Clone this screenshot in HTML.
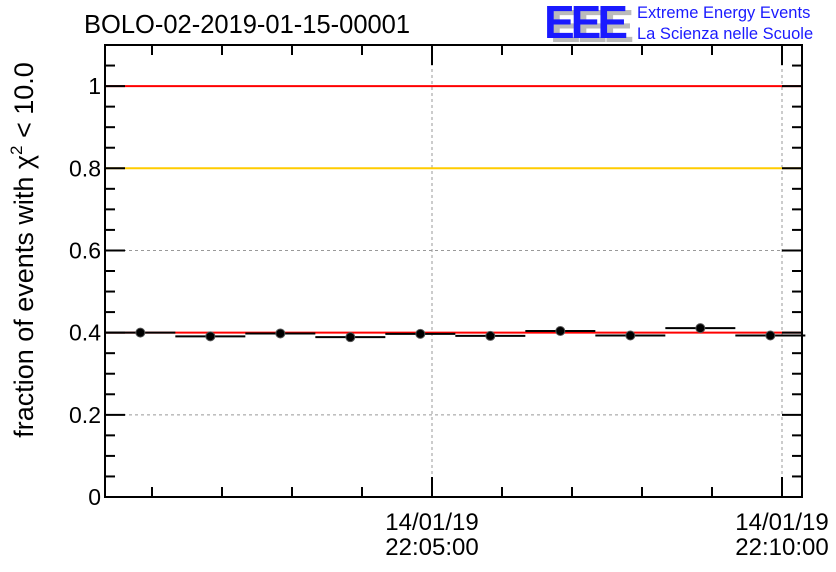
<!DOCTYPE html>
<html><head><meta charset="utf-8"><style>
body{margin:0;background:#fff;}
svg{display:block;font-family:"Liberation Sans",sans-serif;}
</style></head><body>
<svg id="chart" width="836" height="572" viewBox="0 0 836 572">
<text x="84" y="33" font-size="25.5" fill="#000">BOLO-02-2019-01-15-00001</text>
<g>
<text x="550" y="42" font-size="46" font-weight="bold" fill="#bbb" letter-spacing="-4">EEE</text>
<text x="544" y="38" font-size="46" font-weight="bold" fill="#1a1aff" letter-spacing="-4">EEE</text>
<text x="637" y="18" font-size="16.5" fill="#1a1aff">Extreme Energy Events</text>
<text x="637" y="39" font-size="16.5" fill="#1a1aff">La Scienza nelle Scuole</text>
</g>
<text transform="translate(33,250) rotate(-90)" text-anchor="middle" font-size="27" fill="#000">fraction of events with χ<tspan dy="-11" font-size="17">2</tspan><tspan dy="11"> &lt; 10.0</tspan></text>
<g id="grid"></g><g id="marks"></g><g id="axes"></g>
</svg>
<script>
const xTimes=[-250,-190,-130,-70,-10,50,110,170,230,290]; // seconds rel. to 22:05:00
const fractions=[0.400,0.391,0.398,0.389,0.397,0.392,0.404,0.393,0.411,0.393];
const refLines=[1.0,0.8,0.4];
const refColors=['#ff0000','#ffcc00','#ff0000'];
const yTicks=[0,0.2,0.4,0.6,0.8,1];
const yTickLabels=['0','0.2','0.4','0.6','0.8','1'];
const xMajor=[0,300];
const xMajorLabels=[['14/01/19','22:05:00'],['14/01/19','22:10:00']];
const L=105,R=802,T=45,B=497;
const ys=v=>B-v*(B-T)/1.1;
const xs=s=>432+s*70/60;
const NS='http://www.w3.org/2000/svg';
function mk(p,t,a){const e=document.createElementNS(NS,t);for(const k in a)e.setAttribute(k,a[k]);p.appendChild(e);return e;}
const grid=document.getElementById('grid'),marks=document.getElementById('marks'),axes=document.getElementById('axes');
yTicks.forEach(v=>{if(v>0&&v<1){const g=mk(grid,'line',{x1:L,x2:R,y1:ys(v),y2:ys(v),stroke:'#999','stroke-dasharray':'3,3','stroke-width':1});

}});
xMajor.forEach(s=>{const g=mk(grid,'line',{x1:xs(s),x2:xs(s),y1:T,y2:B,stroke:'#999','stroke-dasharray':'3,3','stroke-width':1});

});
refLines.forEach((v,i)=>{const l=mk(marks,'line',{x1:L,x2:R,y1:ys(v),y2:ys(v),stroke:refColors[i],'stroke-width':2});

});
xTimes.forEach((s,i)=>{const y=ys(fractions[i]);
const b=mk(marks,'line',{x1:xs(s-30),x2:xs(s+30),y1:y,y2:y,stroke:'#000','stroke-width':2});


const c=mk(marks,'circle',{cx:xs(s),cy:y,r:4.5,fill:'#000',stroke:'#555','stroke-width':1});

});
const fr=mk(axes,'rect',{x:L,y:T,width:R-L,height:B-T,fill:'none',stroke:'#000','stroke-width':2});


for(let k=0;k<=22;k++){const v=k*0.05,y=ys(v),len=(k%4==0)?20:10;
mk(axes,'line',{x1:L,x2:L+len,y1:y,y2:y,stroke:'#000','stroke-width':2});
mk(axes,'line',{x1:R,x2:R-len,y1:y,y2:y,stroke:'#000','stroke-width':2});}
yTicks.forEach((v,i)=>{const t=mk(axes,'text',{x:L-4,y:ys(v)+8,'text-anchor':'end','font-size':23});t.textContent=yTickLabels[i];

});
for(let m=-5;m<=5;m++){const x=xs(m*60);if(x<L||x>R)continue;const len=(m%5==0)?20:10;
mk(axes,'line',{x1:x,x2:x,y1:B,y2:B-len,stroke:'#000','stroke-width':2});
mk(axes,'line',{x1:x,x2:x,y1:T,y2:T+len,stroke:'#000','stroke-width':2});}
xMajor.forEach((s,i)=>{xMajorLabels[i].forEach((lab,j)=>{const t=mk(axes,'text',{x:xs(s),y:530+j*25,'text-anchor':'middle','font-size':24});t.textContent=lab;

});});
</script>
</body></html>
